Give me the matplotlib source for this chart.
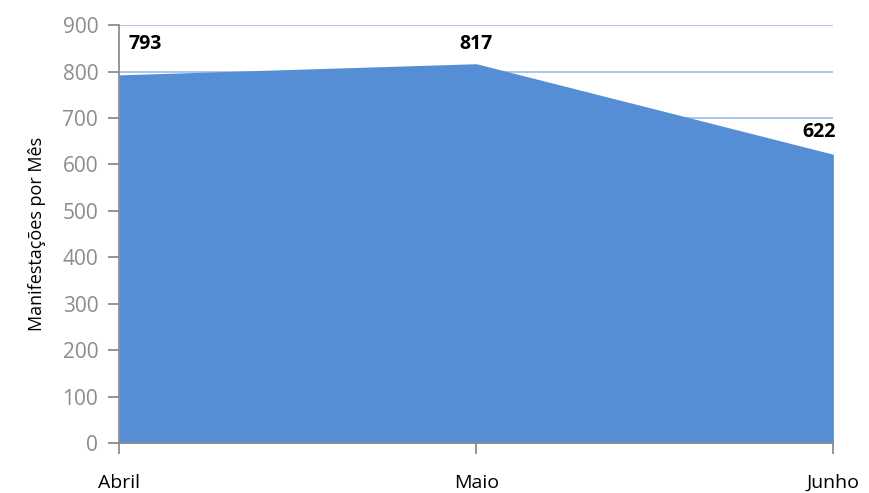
import numpy as np
import matplotlib.pyplot as plt

plt.rcParams['font.family'] = ['Open Sans', 'DejaVu Sans']

# dados
meses = ['Abril', 'Maio', 'Junho']
valores = [793, 817, 622]
y_ticks = [0, 100, 200, 300, 400, 500, 600, 700, 800, 900]

x = np.arange(len(meses))

fig = plt.figure(figsize=(8.69, 4.93), dpi=100)
ax = fig.add_axes([0.137, 0.101, 0.822, 0.848])

# linhas de grade
ax.set_axisbelow(True)
ax.yaxis.grid(True, color='#9fbbe6', linewidth=1.2)

# area
ax.fill_between(x, valores, 0, color='#558ed5', linewidth=0, zorder=2)

ax.set_xlim(x[0], x[-1])
ax.set_ylim(0, 900)
ax.set_yticks(y_ticks)
ax.set_xticks(x)
ax.set_xticklabels(meses)

for s in ['top', 'right']:
    ax.spines[s].set_visible(False)
for s in ['left', 'bottom']:
    ax.spines[s].set_color('#8c8c8c')
    ax.spines[s].set_linewidth(1.3)
    ax.spines[s].set_zorder(3)

ax.tick_params(axis='y', colors='#8c8c8c', labelcolor='#8c8c8c',
               labelsize=15, length=8, width=1.3, pad=7)
ax.tick_params(axis='x', colors='#8c8c8c', labelcolor='black',
               labelsize=14, length=8, width=1.3, pad=14)

ax.set_ylabel('Manifestações por Mês', fontsize=13, labelpad=12)

# rotulos de dados
alinh = ['left', 'center', 'right']
desloc = [7, 0, 2]
acima = [15, 7, 9]
for xi, v, ha, dx, dy in zip(x, valores, alinh, desloc, acima):
    ax.annotate(str(v), (xi, v), xytext=(dx, dy), textcoords='offset points',
                ha=ha, va='bottom', fontsize=14, fontweight='bold', zorder=4)

fig.savefig('out.png', dpi=100)
